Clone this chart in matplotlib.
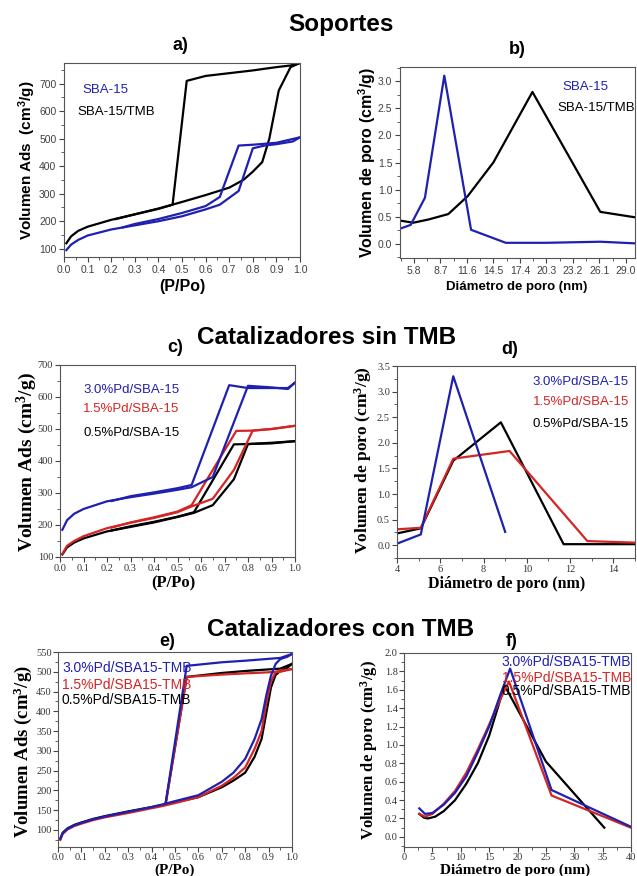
import numpy as np
import matplotlib
matplotlib.use("Agg")
import matplotlib.pyplot as plt
from matplotlib.ticker import MultipleLocator, FormatStrFormatter

plt.rcParams["mathtext.default"] = "regular"

# ---- a) Soportes: isotermas (P/Po vs volumen adsorbido)
a_p_sba_ads = [0.01, 0.03, 0.06, 0.1, 0.2, 0.3, 0.4, 0.5, 0.6, 0.66, 0.74, 0.8, 0.85, 0.9, 0.97, 1.0]
a_v_sba_ads = [95, 115, 132, 148, 170, 185, 200, 218, 243, 260, 310, 465, 475, 480, 490, 505]
a_p_sba_des = [1.0, 0.9, 0.8, 0.74, 0.66, 0.6, 0.5, 0.4, 0.3, 0.25]
a_v_sba_des = [505, 485, 478, 475, 288, 255, 230, 208, 190, 178]
a_p_tmb_ads = [0.01, 0.03, 0.06, 0.1, 0.2, 0.3, 0.4, 0.5, 0.6, 0.7, 0.76, 0.8, 0.84, 0.87, 0.91, 0.96, 1.0]
a_v_tmb_ads = [120, 145, 165, 180, 205, 225, 246, 270, 295, 322, 350, 380, 415, 500, 675, 760, 775]
a_p_tmb_des = [1.0, 0.96, 0.9, 0.8, 0.7, 0.6, 0.52, 0.46, 0.4, 0.3, 0.22]
a_v_tmb_des = [775, 766, 760, 748, 738, 728, 710, 260, 245, 225, 208]

# ---- b) Soportes: distribucion de poro
b_d_sba = [4.27, 5.44, 7.0, 9.12, 12.05, 15.85, 20.3, 26.2, 30.0]
b_v_sba = [0.28, 0.35, 0.85, 3.10, 0.26, 0.02, 0.02, 0.04, 0.01]
b_d_tmb = [4.27, 5.72, 7.4, 9.56, 11.68, 14.49, 18.77, 26.2, 30.0]
b_v_tmb = [0.43, 0.39, 0.45, 0.55, 0.88, 1.50, 2.80, 0.59, 0.49]

# ---- c) Catalizadores sin TMB: isotermas
c_p_30_ads = [0.01, 0.03, 0.06, 0.1, 0.2, 0.3, 0.4, 0.5, 0.56, 0.65, 0.8, 0.9, 0.97, 1.0]
c_v_30_ads = [185, 215, 235, 250, 274, 287, 298, 310, 318, 350, 635, 630, 625, 645]
c_p_30_des = [1.0, 0.97, 0.9, 0.8, 0.72, 0.56, 0.5, 0.4, 0.3, 0.22]
c_v_30_des = [645, 628, 628, 628, 637, 325, 315, 302, 290, 275]
c_p_15_ads = [0.01, 0.03, 0.06, 0.1, 0.2, 0.3, 0.4, 0.5, 0.56, 0.65, 0.74, 0.82, 0.9, 1.0]
c_v_15_ads = [110, 135, 150, 165, 190, 207, 222, 240, 258, 282, 372, 495, 500, 510]
c_p_15_des = [1.0, 0.9, 0.82, 0.75, 0.56, 0.5, 0.4, 0.3, 0.22]
c_v_15_des = [510, 500, 495, 494, 262, 242, 224, 208, 192]
c_p_05_ads = [0.01, 0.03, 0.06, 0.1, 0.2, 0.3, 0.4, 0.5, 0.57, 0.65, 0.74, 0.8, 0.9, 1.0]
c_v_05_ads = [108, 130, 145, 158, 180, 194, 208, 225, 238, 262, 343, 453, 455, 462]
c_p_05_des = [1.0, 0.9, 0.8, 0.74, 0.57, 0.5, 0.4, 0.3, 0.22]
c_v_05_des = [462, 457, 453, 452, 240, 226, 210, 196, 183]

# ---- d) Catalizadores sin TMB: distribucion de poro
d_d_30 = [4.0, 5.1, 6.6, 9.0]
d_v_30 = [0.03, 0.21, 3.30, 0.26]
d_d_15 = [4.0, 5.1, 6.6, 9.2, 12.8, 15.0]
d_v_15 = [0.31, 0.34, 1.69, 1.84, 0.08, 0.05]
d_d_05 = [4.0, 5.1, 6.6, 8.8, 11.7, 15.0]
d_v_05 = [0.23, 0.33, 1.65, 2.40, 0.02, 0.02]

# ---- e) Catalizadores con TMB: isotermas
e_p_ads = [0.01, 0.02, 0.04, 0.07, 0.1, 0.15, 0.2, 0.3, 0.4, 0.45, 0.5, 0.6, 0.7, 0.75,
           0.8, 0.84, 0.87, 0.89, 0.91, 0.93, 0.95, 0.98, 1.0]
e_v_30_ads = [78, 92, 103, 112, 118, 127, 134, 146, 158, 165, 173, 188, 222, 245,
              280, 330, 380, 440, 490, 520, 532, 538, 545]
e_v_15_ads = [75, 90, 101, 110, 116, 125, 132, 143, 155, 161, 168, 183, 212, 232,
              258, 305, 350, 420, 475, 500, 503, 505, 507]
e_v_05_ads = [78, 93, 104, 113, 119, 128, 135, 147, 158, 164, 170, 183, 208, 225,
              245, 285, 330, 395, 460, 492, 502, 510, 520]
e_p_des = [1.0, 0.95, 0.8, 0.7, 0.55, 0.46]
e_v_30_des = [545, 535, 528, 524, 515, 168]
e_v_15_des = [507, 500, 496, 493, 487, 165]
e_v_05_des = [520, 508, 502, 497, 487, 167]

# ---- f) Catalizadores con TMB: distribucion de poro
f_d_30 = [2.7, 3.7, 5.0, 7.0, 9.0, 11.0, 13.0, 15.0, 17.0, 18.7, 26.0, 40.0]
f_v_30 = [0.31, 0.25, 0.26, 0.35, 0.48, 0.66, 0.92, 1.20, 1.55, 1.83, 0.51, 0.11]
f_d_15 = [2.7, 3.7, 5.0, 7.0, 9.0, 11.0, 13.0, 15.0, 17.0, 18.5, 26.0, 40.0]
f_v_15 = [0.25, 0.22, 0.25, 0.36, 0.50, 0.70, 0.95, 1.22, 1.50, 1.69, 0.45, 0.10]
f_d_05 = [2.7, 3.5, 4.2, 5.5, 7.0, 9.0, 11.0, 13.0, 15.0, 16.5, 17.7, 25.0, 35.3]
f_v_05 = [0.25, 0.21, 0.20, 0.22, 0.28, 0.40, 0.58, 0.80, 1.10, 1.40, 1.65, 0.82, 0.10]

W, H = 637, 876
SANS = "Liberation Sans"
SERIF = "Liberation Serif"
BLUE = "#2020b0"
RED = "#d42424"
BLACK = "#000000"
LW = 1.6


def add_axes(fig, x0, y0, x1, y1):
    """Axes from pixel box (top-left origin)."""
    return fig.add_axes([x0 / W, 1 - y1 / H, (x1 - x0) / W, (y1 - y0) / H])


def style_axes(ax, family, size, color="#333333", pad=2):
    ax.tick_params(which="both", direction="out", top=False, right=False,
                   labelsize=size, labelcolor=color, labelfontfamily=family,
                   color="#444444", pad=pad)
    ax.tick_params(which="major", length=3.5, width=0.8)
    ax.tick_params(which="minor", length=2, width=0.6)
    for spine in ax.spines.values():
        spine.set_edgecolor("#555555")
        spine.set_linewidth(0.8)


def ftext(fig, x, y, s, size, family, rot=0, weight="bold", color="black"):
    fig.text(x / W, 1 - y / H, s, ha="center", va="center", rotation=rot,
             fontsize=size, family=family, fontweight=weight, color=color)


fig = plt.figure(figsize=(W / 100, H / 100), dpi=100)

# section titles
ftext(fig, 341, 25, "Soportes", 17.5, SANS)
ftext(fig, 327, 337, "Catalizadores sin TMB", 17.5, SANS)
ftext(fig, 341, 630, "Catalizadores con TMB", 17.5, SANS)

# panel letters
for lab, x, y in [("a)", 180, 46), ("b)", 517, 50), ("c)", 175, 348),
                  ("d)", 510, 350), ("e)", 167, 641), ("f)", 512, 642)]:
    ftext(fig, x, y, lab, 13, SANS)

# ---------------- a)
ax = add_axes(fig, 64, 63, 300, 257)
ax.plot(a_p_tmb_ads, a_v_tmb_ads, color=BLACK, lw=LW)
ax.plot(a_p_tmb_des, a_v_tmb_des, color=BLACK, lw=LW)
ax.plot(a_p_sba_ads, a_v_sba_ads, color=BLUE, lw=LW)
ax.plot(a_p_sba_des, a_v_sba_des, color=BLUE, lw=LW)
ax.set_xlim(0, 1.0)
ax.set_ylim(70, 775)
ax.xaxis.set_major_locator(MultipleLocator(0.1))
ax.xaxis.set_minor_locator(MultipleLocator(0.05))
ax.xaxis.set_major_formatter(FormatStrFormatter("%.1f"))
ax.yaxis.set_major_locator(MultipleLocator(100))
ax.yaxis.set_minor_locator(MultipleLocator(50))
style_axes(ax, SANS, 7.5, "#404040")
ax.text(0.08, 0.86, "SBA-15", transform=ax.transAxes, color=BLUE,
        fontsize=9.5, family=SANS, va="center")
ax.text(0.055, 0.75, "SBA-15/TMB", transform=ax.transAxes, color=BLACK,
        fontsize=9.5, family=SANS, va="center")
ftext(fig, 27, 160, "Volumen Ads  (cm$^3$/g)", 11, SANS, rot=90)
ftext(fig, 182, 286, "(P/Po)", 11.5, SANS)

# ---------------- b)
ax = add_axes(fig, 400, 67, 635, 258)
ax.plot(b_d_tmb, b_v_tmb, color=BLACK, lw=LW)
ax.plot(b_d_sba, b_v_sba, color=BLUE, lw=LW)
ax.set_xlim(4.27, 30.0)
ax.set_ylim(-0.26, 3.26)
ax.set_xticks(np.arange(5.8, 29.1, 2.9))
ax.set_xticks(np.arange(4.35, 30.0, 1.45), minor=True)
ax.xaxis.set_major_formatter(FormatStrFormatter("%.1f"))
ax.yaxis.set_major_locator(MultipleLocator(0.5))
ax.yaxis.set_minor_locator(MultipleLocator(0.25))
ax.yaxis.set_major_formatter(FormatStrFormatter("%.1f"))
style_axes(ax, SANS, 7.5, "#404040")
ax.text(0.69, 0.895, "SBA-15", transform=ax.transAxes, color=BLUE,
        fontsize=9.5, family=SANS, va="center")
ax.text(0.67, 0.785, "SBA-15/TMB", transform=ax.transAxes, color=BLACK,
        fontsize=9.5, family=SANS, va="center")
ftext(fig, 367, 162, "Volumen de poro (cm$^3$/g)", 11.5, SANS, rot=90)
ftext(fig, 517, 287, "Diámetro de poro (nm)", 9.5, SANS)

# ---------------- c)
ax = add_axes(fig, 60, 365, 295, 557)
ax.plot(c_p_05_ads, c_v_05_ads, color=BLACK, lw=LW)
ax.plot(c_p_05_des, c_v_05_des, color=BLACK, lw=LW)
ax.plot(c_p_15_ads, c_v_15_ads, color=RED, lw=LW)
ax.plot(c_p_15_des, c_v_15_des, color=RED, lw=LW)
ax.plot(c_p_30_ads, c_v_30_ads, color=BLUE, lw=LW)
ax.plot(c_p_30_des, c_v_30_des, color=BLUE, lw=LW)
ax.set_xlim(0, 1.0)
ax.set_ylim(100, 700)
ax.xaxis.set_major_locator(MultipleLocator(0.1))
ax.xaxis.set_minor_locator(MultipleLocator(0.05))
ax.xaxis.set_major_formatter(FormatStrFormatter("%.1f"))
ax.yaxis.set_major_locator(MultipleLocator(100))
ax.yaxis.set_minor_locator(MultipleLocator(50))
style_axes(ax, SERIF, 7.5, pad=1.5)
for s, y, c in [("3.0%Pd/SBA-15", 0.87, BLUE), ("1.5%Pd/SBA-15", 0.77, RED),
                ("0.5%Pd/SBA-15", 0.646, BLACK)]:
    ax.text(0.098, y, s, transform=ax.transAxes, color=c, fontsize=9.5,
            family=SANS, va="center")
ftext(fig, 27, 462, "Volumen Ads (cm$^3$/g)", 14, SERIF, rot=90)
ftext(fig, 173, 583, "(P/Po)", 12, SERIF)

# ---------------- d)
ax = add_axes(fig, 397, 366, 635, 558)
ax.plot(d_d_05, d_v_05, color=BLACK, lw=LW)
ax.plot(d_d_15, d_v_15, color=RED, lw=LW)
ax.plot(d_d_30, d_v_30, color=BLUE, lw=LW)
ax.set_xlim(4, 15)
ax.set_ylim(-0.25, 3.5)
ax.xaxis.set_major_locator(MultipleLocator(2))
ax.xaxis.set_minor_locator(MultipleLocator(1))
ax.yaxis.set_major_locator(MultipleLocator(0.5))
ax.yaxis.set_minor_locator(MultipleLocator(0.25))
ax.yaxis.set_major_formatter(FormatStrFormatter("%.1f"))
style_axes(ax, SERIF, 7.5, pad=1.5)
for s, y, c in [("3.0%Pd/SBA-15", 0.917, BLUE), ("1.5%Pd/SBA-15", 0.81, RED),
                ("0.5%Pd/SBA-15", 0.70, BLACK)]:
    ax.text(0.57, y, s, transform=ax.transAxes, color=c, fontsize=9.5,
            family=SANS, va="center")
ftext(fig, 363, 460, "Volumen de poro (cm$^3$/g)", 12.5, SERIF, rot=90)
ftext(fig, 507, 584, "Diámetro de poro (nm)", 11.5, SERIF)

# ---------------- e)
ax = add_axes(fig, 58, 652, 292, 847)
ax.plot(e_p_ads, e_v_05_ads, color=BLACK, lw=LW)
ax.plot(e_p_des, e_v_05_des, color=BLACK, lw=LW)
ax.plot(e_p_ads, e_v_15_ads, color=RED, lw=LW)
ax.plot(e_p_des, e_v_15_des, color=RED, lw=LW)
ax.plot(e_p_ads, e_v_30_ads, color=BLUE, lw=LW)
ax.plot(e_p_des, e_v_30_des, color=BLUE, lw=LW)
ax.set_xlim(0, 1.0)
ax.set_ylim(57, 550)
ax.xaxis.set_major_locator(MultipleLocator(0.1))
ax.xaxis.set_minor_locator(MultipleLocator(0.05))
ax.xaxis.set_major_formatter(FormatStrFormatter("%.1f"))
ax.yaxis.set_major_locator(MultipleLocator(50))
ax.yaxis.set_minor_locator(MultipleLocator(25))
style_axes(ax, SERIF, 7.5, pad=1)
for s, y, c in [("3.0%Pd/SBA15-TMB", 0.92, BLUE), ("1.5%Pd/SBA15-TMB", 0.83, RED),
                ("0.5%Pd/SBA15-TMB", 0.755, BLACK)]:
    ax.text(0.017, y, s, transform=ax.transAxes, color=c, fontsize=10,
            family=SANS, va="center")
ftext(fig, 23, 752, "Volumen Ads (cm$^3$/g)", 13.5, SERIF, rot=90)
ftext(fig, 175, 870, "(P/Po)", 11, SERIF)

# ---------------- f)
ax = add_axes(fig, 404, 653, 631, 847)
ax.plot(f_d_05, f_v_05, color=BLACK, lw=LW)
ax.plot(f_d_15, f_v_15, color=RED, lw=LW)
ax.plot(f_d_30, f_v_30, color=BLUE, lw=LW)
ax.set_xlim(0, 40)
ax.set_ylim(-0.11, 2.0)
ax.xaxis.set_major_locator(MultipleLocator(5))
ax.xaxis.set_minor_locator(MultipleLocator(2.5))
ax.yaxis.set_major_locator(MultipleLocator(0.2))
ax.yaxis.set_minor_locator(MultipleLocator(0.1))
ax.yaxis.set_major_formatter(FormatStrFormatter("%.1f"))
style_axes(ax, SERIF, 7.5, pad=1)
for s, y, c in [("3.0%Pd/SBA15-TMB", 0.954, BLUE), ("1.5%Pd/SBA15-TMB", 0.87, RED),
                ("0.5%Pd/SBA15-TMB", 0.805, BLACK)]:
    ax.text(1.0, y, s, transform=ax.transAxes, color=c, fontsize=10,
            family=SANS, va="center", ha="right")
ftext(fig, 369, 750, "Volumen de poro (cm$^3$/g)", 12, SERIF, rot=90)
ftext(fig, 515, 870, "Diámetro de poro (nm)", 11, SERIF)

fig.savefig("out.png", dpi=100)
